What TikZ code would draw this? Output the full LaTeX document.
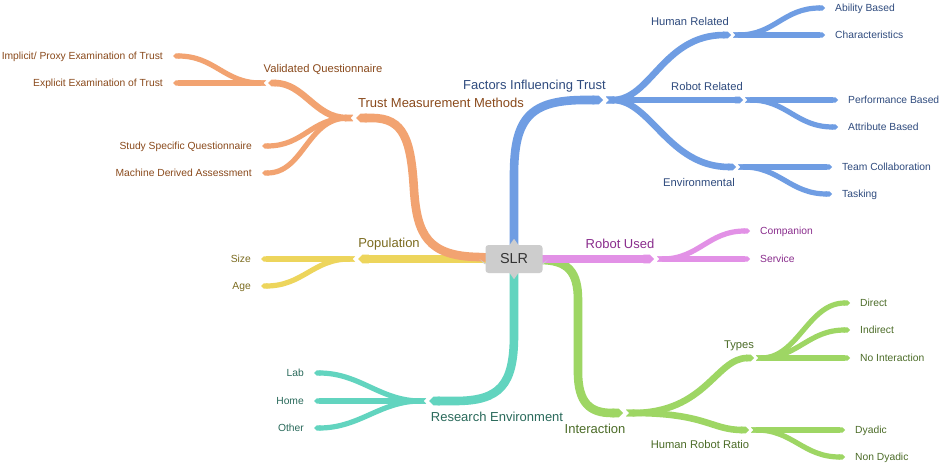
\documentclass[tikz,border=0pt]{standalone}
\usepackage{fontspec}
\setmainfont{Liberation Sans}
\usetikzlibrary{arrows.meta,positioning,calc}

\definecolor{blueBr}{HTML}{6F9DE3}
\definecolor{blueTx}{HTML}{2F4B7E}
\definecolor{orangeBr}{HTML}{F2A371}
\definecolor{orangeTx}{HTML}{8A4A1C}
\definecolor{yellowBr}{HTML}{EDD55C}
\definecolor{yellowTx}{HTML}{7B6B1F}
\definecolor{purpleBr}{HTML}{E291E6}
\definecolor{purpleTx}{HTML}{8A2D8D}
\definecolor{tealBr}{HTML}{62D4BF}
\definecolor{tealTx}{HTML}{2A6A5B}
\definecolor{greenBr}{HTML}{9ED664}
\definecolor{greenTx}{HTML}{4C6C28}
\definecolor{slrGray}{HTML}{CDCDCD}

\begin{document}
\begin{tikzpicture}[x=1pt,y=-1pt]
\tikzset{leafFont/.style={font=\fontsize{10.3}{12}\selectfont}}
\tikzset{midFont/.style={font=\fontsize{11.2}{13}\selectfont}}
\tikzset{topFont/.style={font=\fontsize{13}{15}\selectfont}}
\tikzset{myBox/.style={fill=slrGray,rounded corners=3pt,minimum width=57pt,minimum height=28pt,text=black!80,font=\fontsize{14.4}{16}\selectfont}}
\tikzset{trunk/.style={line width=8.6pt,shorten >=3pt,-{Triangle Cap}}}
\tikzset{twig/.style={line width=6.6pt,shorten >=2pt,{Triangle Cap[reversed]}-{Triangle Cap}}}
\tikzset{leaf/.style={line width=5.2pt,{Triangle Cap[reversed]}-{Triangle Cap}}}
\tikzset{leafTxt/.style={leafFont,inner sep=0pt,text height=7.4pt,text depth=0pt}}
\tikzset{midTxt/.style={midFont,inner sep=0pt,anchor=base}}
\tikzset{topTxt/.style={topFont,inner sep=0pt}}

\path[use as bounding box,fill=white] (0,0) rectangle (941,465);

\coordinate (root) at (514,259);
% junctions
\coordinate (fit) at (606,100);
\coordinate (hr) at (733,35);
\coordinate (rr) at (745,100);
\coordinate (env) at (738,167);
\coordinate (tmm) at (353,118);
\coordinate (vq) at (266,83);
\coordinate (pop) at (355,259);
\coordinate (ru) at (657,259);
\coordinate (re) at (426,401);
\coordinate (inter) at (626,413);
\coordinate (types) at (756,358);
\coordinate (hrr) at (751,430);
% leaf ends
\coordinate (abil) at (825,8);
\coordinate (char) at (825,35);
\coordinate (perf) at (838,100);
\coordinate (attr) at (838,127);
\coordinate (team) at (832,167);
\coordinate (task) at (832,194);
\coordinate (impl) at (173,56);
\coordinate (expl) at (173,83);
\coordinate (ssq) at (262,146);
\coordinate (mda) at (262,173);
\coordinate (size) at (261,259);
\coordinate (age) at (261,286);
\coordinate (comp) at (750,231);
\coordinate (serv) at (750,259);
\coordinate (lab) at (314,373);
\coordinate (home) at (314,401);
\coordinate (other) at (314,428);
\coordinate (direct) at (850,303);
\coordinate (indirect) at (850,330);
\coordinate (noint) at (850,358);
\coordinate (dyad) at (845,430);
\coordinate (ndyad) at (845,457);

% factors influencing trust
\draw[trunk,blueBr] (root) -- (514,175) .. controls (514,118) and (530,100) .. (585,100) -- (fit);
\draw[twig,blueBr] (fit) .. controls +(45,0) and +(-70,0) .. (hr);
\draw[twig,blueBr] (fit) -- (rr);
\draw[twig,blueBr] (fit) .. controls +(45,0) and +(-70,0) .. (env);
\draw[leaf,blueBr] (hr) .. controls +(42,0) and +(-42,0) .. (abil);
\draw[leaf,blueBr] (hr) -- (char);
\draw[leaf,blueBr] (rr) -- (perf);
\draw[leaf,blueBr] (rr) .. controls +(42,0) and +(-42,0) .. (attr);
\draw[leaf,blueBr] (env) -- (team);
\draw[leaf,blueBr] (env) .. controls +(42,0) and +(-42,0) .. (task);

% population
\draw[trunk,yellowBr] (root) -- (pop);
\draw[leaf,yellowBr] (pop) -- (size);
\draw[leaf,yellowBr] (pop) .. controls +(-42,0) and +(42,0) .. (age);

% trust measurement methods
\draw[trunk,orangeBr] (root) -- (478,257) .. controls (428,256) and (417,235) .. (414,190) .. controls (411,140) and (404,118) .. (372,118) -- (tmm);
\draw[twig,orangeBr] (tmm) .. controls +(-38,0) and +(38,0) .. (vq);
\draw[leaf,orangeBr] (tmm) .. controls +(-42,0) and +(42,0) .. (ssq);
\draw[leaf,orangeBr] (tmm) .. controls +(-46,0) and +(42,0) .. (mda);
\draw[leaf,orangeBr] (vq) .. controls +(-42,0) and +(42,0) .. (impl);
\draw[leaf,orangeBr] (vq) -- (expl);

% research environment
\draw[trunk,tealBr] (root) -- (514,335) .. controls (514,385) and (500,401) .. (455,401) -- (re);
\draw[leaf,tealBr] (re) .. controls +(-46,0) and +(46,0) .. (lab);
\draw[leaf,tealBr] (re) -- (home);
\draw[leaf,tealBr] (re) .. controls +(-46,0) and +(46,0) .. (other);

% interaction
\draw[trunk,greenBr] (root) -- (540,260) .. controls (568,260) and (578,272) .. (578,300) -- (578,372) .. controls (578,403) and (590,413) .. (612,413) -- (inter);
\draw[twig,greenBr] (inter) .. controls +(80,0) and +(-40,0) .. (types);
\draw[twig,greenBr] (inter) .. controls +(80,0) and +(-40,0) .. (hrr);
\draw[leaf,greenBr] (types) .. controls +(42,0) and +(-42,0) .. (direct);
\draw[leaf,greenBr] (types) .. controls +(42,0) and +(-42,0) .. (indirect);
\draw[leaf,greenBr] (types) -- (noint);
\draw[leaf,greenBr] (hrr) -- (dyad);
\draw[leaf,greenBr] (hrr) .. controls +(42,0) and +(-42,0) .. (ndyad);

% robot used
\draw[trunk,purpleBr] (root) -- (ru);
\draw[leaf,purpleBr] (ru) .. controls +(42,0) and +(-42,0) .. (comp);
\draw[leaf,purpleBr] (ru) -- (serv);

% centre
\node[myBox] (slr) at (root) {SLR};
\foreach \a/\px/\py/\qx/\qy in {north/0/-6/5/1, south/0/6/5/-1, west/-6/0/1/5, east/6/0/-1/5}
  \fill[slrGray] ($(slr.\a)+(-\qx,\qy)$) -- ($(slr.\a)+(\px,\py)$) -- ($(slr.\a)+(\qx,\qy)$) -- cycle;

% main labels
\node[topTxt,text=blueTx,anchor=base east] (fitT) at (606,90) {Factors Influencing Trust};
\node[topTxt,text=orangeTx,anchor=base west] (tmmT) at (358,107.5) {Trust Measurement Methods};
\node[topTxt,text=yellowTx,anchor=base] (popT) at (389,247.5) {Population};
\node[topTxt,text=purpleTx,anchor=base] (ruT) at (620,248) {Robot Used};
\node[topTxt,text=tealTx,anchor=base] (reT) at (497,421) {Research Environment};
\node[topTxt,text=greenTx,anchor=base] (interT) at (595,433) {Interaction};

% sub labels
\node[midTxt,text=blueTx] (hrT) at (690,26) {Human Related};
\node[midTxt,text=blueTx] (rrT) at (707,91) {Robot Related};
\node[midTxt,text=blueTx] (envT) at (699,186) {Environmental};
\node[midTxt,text=orangeTx] (vqT) at (323,73) {Validated Questionnaire};
\node[midTxt,text=greenTx] (typesT) at (739,348) {Types};
\node[midTxt,text=greenTx] (hrrT) at (700,448) {Human Robot Ratio};

% leaf labels
\node[leafTxt,text=blueTx,right=10pt of abil] (abilT) {Ability Based};
\node[leafTxt,text=blueTx,right=10pt of char] (charT) {Characteristics};
\node[leafTxt,text=blueTx,right=10pt of perf] (perfT) {Performance Based};
\node[leafTxt,text=blueTx,right=10pt of attr] (attrT) {Attribute Based};
\node[leafTxt,text=blueTx,right=10pt of team] (teamT) {Team Collaboration};
\node[leafTxt,text=blueTx,right=10pt of task] (taskT) {Tasking};
\node[leafTxt,text=orangeTx,left=10pt of impl] (implT) {Implicit/ Proxy Examination of Trust};
\node[leafTxt,text=orangeTx,left=10pt of expl] (explT) {Explicit Examination of Trust};
\node[leafTxt,text=orangeTx,left=10pt of ssq] (ssqT) {Study Specific Questionnaire};
\node[leafTxt,text=orangeTx,left=10pt of mda] (mdaT) {Machine Derived Assessment};
\node[leafTxt,text=yellowTx,left=10pt of size] (sizeT) {Size};
\node[leafTxt,text=yellowTx,left=10pt of age] (ageT) {Age};
\node[leafTxt,text=purpleTx,right=10pt of comp] (compT) {Companion};
\node[leafTxt,text=purpleTx,right=10pt of serv] (servT) {Service};
\node[leafTxt,text=tealTx,left=10pt of lab] (labT) {Lab};
\node[leafTxt,text=tealTx,left=10pt of home] (homeT) {Home};
\node[leafTxt,text=tealTx,left=10pt of other] (otherT) {Other};
\node[leafTxt,text=greenTx,right=10pt of direct] (directT) {Direct};
\node[leafTxt,text=greenTx,right=10pt of indirect] (indirectT) {Indirect};
\node[leafTxt,text=greenTx,right=10pt of noint] (nointT) {No Interaction};
\node[leafTxt,text=greenTx,right=10pt of dyad] (dyadT) {Dyadic};
\node[leafTxt,text=greenTx,right=10pt of ndyad] (ndyadT) {Non Dyadic};
\end{tikzpicture}
\end{document}
